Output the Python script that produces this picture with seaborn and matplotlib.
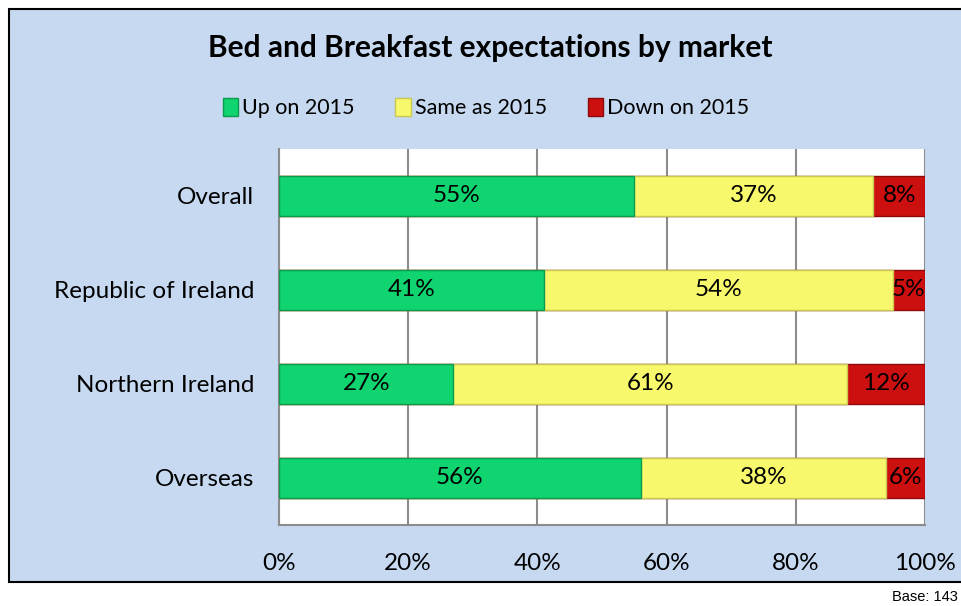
import seaborn as sns
import matplotlib.pyplot as plt
import pandas as pd
from matplotlib.patches import Rectangle, Patch

# Datos
markets = ['Overall', 'Republic of Ireland', 'Northern Ireland', 'Overseas']
up = [55, 41, 27, 56]
same = [37, 54, 61, 38]
down = [8, 5, 12, 6]
series = ['Up on 2015', 'Same as 2015', 'Down on 2015']
colors = ['#0fd46f', '#f8f86c', '#cc0f0f']
edges = ['#0b9a50', '#c8c850', '#8e0a0a']
xticks = [0, 20, 40, 60, 80, 100]

df = pd.DataFrame({'market': markets, 'up': up, 'same': same, 'down': down})
df['c1'] = df['up']
df['c2'] = df['up'] + df['same']
df['c3'] = df['c2'] + df['down']

sns.set_style('white')
plt.rcParams['font.family'] = ['Lato', 'DejaVu Sans']
plt.rcParams['text.color'] = 'black'
plt.rcParams['xtick.color'] = 'black'
plt.rcParams['ytick.color'] = 'black'

fig = plt.figure(figsize=(9.61, 6.06), dpi=100)
# Fondo azul del área del gráfico
fig.patches.append(Rectangle((9 / 961, (606 - 582) / 606), 1.0, (582 - 9) / 606,
                             transform=fig.transFigure, facecolor='#c6d9f0',
                             edgecolor='black', linewidth=1.5, zorder=-1))
ax = fig.add_axes([279 / 961, (606 - 525) / 606, (925 - 279) / 961, (525 - 149) / 606])
ax.set_facecolor('white')

# Barras apiladas: se dibujan los acumulados de mayor a menor
for col, c, e in [('c3', colors[2], edges[2]), ('c2', colors[1], edges[1]), ('c1', colors[0], edges[0])]:
    sns.barplot(data=df, x=col, y='market', orient='h', color=c, edgecolor=e,
                linewidth=1, width=0.415, saturation=1, ax=ax, zorder=3)

# Etiquetas de porcentaje
for i in range(len(markets)):
    starts = [0, up[i], up[i] + same[i]]
    for s, v in zip(starts, [up[i], same[i], down[i]]):
        ax.text(s + v / 2, i, f'{v}%', ha='center', va='center', fontsize=17.5,
                color='black', zorder=5)

ax.set_xlim(0, 100)
ax.set_ylim(3.5, -0.5)
ax.set_xticks(xticks)
ax.set_xticklabels([f'{t}%' for t in xticks], fontsize=17.5)
ax.set_xlabel('')
ax.set_ylabel('')
ax.tick_params(axis='y', which='major', length=0, pad=18, labelsize=17.5)
ax.set_yticks([-0.5, 0.5, 1.5, 2.5, 3.5], minor=True)
ax.tick_params(axis='y', which='minor', length=7, width=1.5, color='#8c8c8c', direction='out')
ax.tick_params(axis='x', length=5, width=1.5, color='#8c8c8c', labelcolor='black', pad=15)
ax.grid(True, axis='x', color='#8c8c8c', linewidth=1.5, zorder=1)
ax.set_axisbelow(True)
for side in ['top', 'right']:
    ax.spines[side].set_visible(False)
for side in ['left', 'bottom']:
    ax.spines[side].set_color('#8c8c8c')
    ax.spines[side].set_linewidth(1.5)

# Título y leyenda
fig.text(490 / 961, 1 - 48 / 606, 'Bed and Breakfast expectations by market',
         ha='center', va='center', fontsize=21.5, fontweight='bold')
handles = [Patch(facecolor=c, edgecolor=e, label=s) for s, c, e in zip(series, colors, edges)]
fig.legend(handles=handles, loc='center', bbox_to_anchor=(486 / 961, 1 - 108 / 606),
           ncol=3, frameon=False, fontsize=15.5, handlelength=0.7, handleheight=0.9,
           handletextpad=0.2, columnspacing=1.9)

fig.text(958 / 961, 1 - 597 / 606, 'Base: 143', ha='right', va='center',
         fontsize=10.5, family='Liberation Sans')

fig.savefig('out.png', dpi=100)
